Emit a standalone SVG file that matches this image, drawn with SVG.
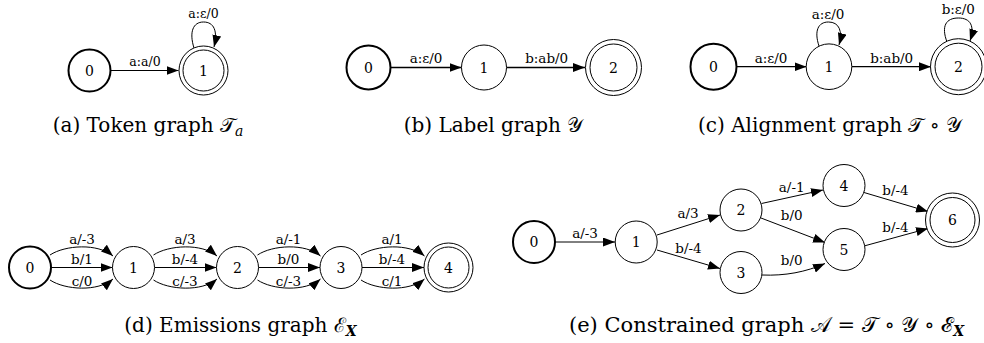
<svg xmlns="http://www.w3.org/2000/svg" width="984" height="343" viewBox="0 0 984 343" font-family="'DejaVu Serif', serif">
<style>
text{font-family:"DejaVu Serif",serif;fill:#000;text-anchor:middle}
.n{fill:#fff;stroke:#000;stroke-width:1}
.s{stroke-width:2}
.t{font-size:14px}
.el{font-size:13.5px}
.ela{font-size:12.5px}
.cap{font-size:20px}
.capw{font-size:21px}
.sub{font-size:14px}
.e{fill:none;stroke:#000;stroke-width:1;marker-end:url(#ah)}
.e2{stroke-width:1.3}
</style>
<defs>
<marker id="ah" markerUnits="userSpaceOnUse" markerWidth="12" markerHeight="9" viewBox="0 0 12 9" refX="12" refY="4.5" orient="auto">
<path d="M0,0 L12,4.5 L0,9 z" fill="#000"/>
</marker>
</defs>
<g id="connectors">
<path class="e" d="M110.5,70.5 L178.5,70.5"/>
<path class="e" d="M194,48 C189,32 193,22 203.5,22 C214,22 218,31 214,47"/>
<path class="e e2" d="M391,67.5 L461.5,67.5"/>
<path class="e e2" d="M506.5,67.5 L585,67.5"/>
<path class="e e2" d="M736.5,66.7 L806.5,66.7"/>
<path class="e e2" d="M852,66.7 L931,66.7"/>
<path class="e" d="M819,46 C814,31 818,22 828.5,22 C839,22 843,31 839,45"/>
<path class="e" d="M947,42 C941,26 946,18 958.3,18 C970.6,18 975,26 970,41"/>
<path class="e" d="M50,255 C65,245 98,243 113,256"/>
<path class="e" d="M51,267.5 L112.5,267.5"/>
<path class="e" d="M50,280 C65,290 98,292 113,279"/>
<path class="e" d="M153.5,255 C168.5,245 202,243 217,256"/>
<path class="e" d="M154.5,267.5 L216.5,267.5"/>
<path class="e" d="M153.5,280 C168.5,290 202,292 217,279"/>
<path class="e" d="M257.5,255 C272.5,245 305.5,243 320.5,256"/>
<path class="e" d="M258.5,267.5 L320,267.5"/>
<path class="e" d="M257.5,280 C272.5,290 305.5,292 320.5,279"/>
<path class="e" d="M361,255 C376,245 409,243 424.5,256"/>
<path class="e" d="M362,267.5 L424,267.5"/>
<path class="e" d="M361,280 C376,290 409,292 424.5,279"/>
<path class="e" d="M555,242 L615,242"/>
<path class="e" d="M657,235 L720,215"/>
<path class="e" d="M657,250 L720,268.5"/>
<path class="e" d="M761.5,203.5 L823,190"/>
<path class="e" d="M761,218 L825,242.5"/>
<path class="e" d="M762,275 C785,276 806,272 825,263.5"/>
<path class="e" d="M864,192.5 L928,211.5"/>
<path class="e" d="M864,246 L928,228.5"/>
</g>
<g id="edge-labels">
<text class="ela" x="145" y="65.5">a:a/0</text>
<text class="ela" x="203.5" y="18">a:ε/0</text>
<text class="el" x="426" y="63">a:ε/0</text>
<text class="el" x="546.7" y="63">b:ab/0</text>
<text class="el" x="771" y="62.5">a:ε/0</text>
<text class="el" x="891.7" y="62.5">b:ab/0</text>
<text class="el" x="828" y="18.5">a:ε/0</text>
<text class="el" x="958.3" y="13.5">b:ε/0</text>
<text class="el" x="82" y="243.5">a/-3</text>
<text class="el" x="82" y="263.5">b/1</text>
<text class="el" x="82" y="286">c/0</text>
<text class="el" x="185" y="243.5">a/3</text>
<text class="el" x="185" y="263.5">b/-4</text>
<text class="el" x="185" y="286">c/-3</text>
<text class="el" x="288.5" y="243.5">a/-1</text>
<text class="el" x="288.5" y="263.5">b/0</text>
<text class="el" x="288.5" y="286">c/-3</text>
<text class="el" x="392" y="243.5">a/1</text>
<text class="el" x="392" y="263.5">b/-4</text>
<text class="el" x="392" y="286">c/1</text>
<text class="el" x="585" y="238">a/-3</text>
<text class="el" x="688" y="218">a/3</text>
<text class="el" x="688.5" y="253">b/-4</text>
<text class="el" x="791.7" y="191.5">a/-1</text>
<text class="el" x="791.7" y="220">b/0</text>
<text class="el" x="791.7" y="265">b/0</text>
<text class="el" x="895.5" y="195">b/-4</text>
<text class="el" x="895.5" y="231.5">b/-4</text>
</g>
<g id="a0"><circle class="n s" cx="89.5" cy="70.5" r="21"/><text class="t" x="89.5" y="75.5">0</text></g>
<g id="a1"><circle class="n" cx="203.5" cy="70.5" r="24.5"/><circle class="n" cx="203.5" cy="70.5" r="20.5"/><text class="t" x="203.5" y="75.5">1</text></g>
<g id="b0"><circle class="n s" cx="368.5" cy="67.5" r="22"/><text class="t" x="368.5" y="72.5">0</text></g>
<g id="b1"><circle class="n" cx="484" cy="67.5" r="22.5"/><text class="t" x="484" y="72.5">1</text></g>
<g id="b2"><circle class="n" cx="613.5" cy="67.5" r="28"/><circle class="n" cx="613.5" cy="67.5" r="23.5"/><text class="t" x="613.5" y="72.5">2</text></g>
<g id="c0"><circle class="n s" cx="713.5" cy="66.7" r="23"/><text class="t" x="713.5" y="71.7">0</text></g>
<g id="c1"><circle class="n" cx="829" cy="66.7" r="22.8"/><text class="t" x="829" y="71.7">1</text></g>
<g id="c2"><circle class="n" cx="958.5" cy="66.7" r="28"/><circle class="n" cx="958.5" cy="66.7" r="23.5"/><text class="t" x="958.5" y="71.7">2</text></g>
<g id="d0"><circle class="n s" cx="30" cy="267.5" r="21"/><text class="t" x="30" y="272.5">0</text></g>
<g id="d1"><circle class="n" cx="133.5" cy="267.5" r="21"/><text class="t" x="133.5" y="272.5">1</text></g>
<g id="d2"><circle class="n" cx="237.5" cy="267.5" r="21"/><text class="t" x="237.5" y="272.5">2</text></g>
<g id="d3"><circle class="n" cx="341" cy="267.5" r="21"/><text class="t" x="341" y="272.5">3</text></g>
<g id="d4"><circle class="n" cx="448.5" cy="267.5" r="24.5"/><circle class="n" cx="448.5" cy="267.5" r="20.5"/><text class="t" x="448.5" y="272.5">4</text></g>
<g id="e0"><circle class="n s" cx="534" cy="242" r="21"/><text class="t" x="534" y="247">0</text></g>
<g id="e1"><circle class="n" cx="636.2" cy="242" r="21"/><text class="t" x="636.2" y="247">1</text></g>
<g id="e2"><circle class="n" cx="741" cy="210" r="21"/><text class="t" x="741" y="215">2</text></g>
<g id="e3"><circle class="n" cx="741" cy="272.5" r="21"/><text class="t" x="741" y="277.5">3</text></g>
<g id="e4"><circle class="n" cx="844" cy="185.5" r="21"/><text class="t" x="844" y="190.5">4</text></g>
<g id="e5"><circle class="n" cx="844" cy="249.5" r="21"/><text class="t" x="844" y="254.5">5</text></g>
<g id="e6"><circle class="n" cx="952.5" cy="220" r="27"/><circle class="n" cx="952.5" cy="220" r="22.5"/><text class="t" x="952.5" y="225">6</text></g>
<g id="captions">
<text class="cap" x="148" y="132">(a) Token graph 𝒯<tspan class="sub" font-style="italic" dy="4">a</tspan></text>
<text class="cap" x="493.5" y="132">(b) Label graph 𝒴</text>
<text class="cap" x="830" y="132">(c) Alignment graph 𝒯 ∘ 𝒴</text>
<text class="cap" x="240.5" y="332">(d) Emissions graph ℰ<tspan class="sub" font-style="italic" font-weight="bold" dy="4">X</tspan></text>
<text class="capw" x="766.5" y="332">(e) Constrained graph 𝒜 = 𝒯 ∘ 𝒴 ∘ ℰ<tspan class="sub" font-style="italic" font-weight="bold" dy="4">X</tspan></text>
</g>
</svg>
